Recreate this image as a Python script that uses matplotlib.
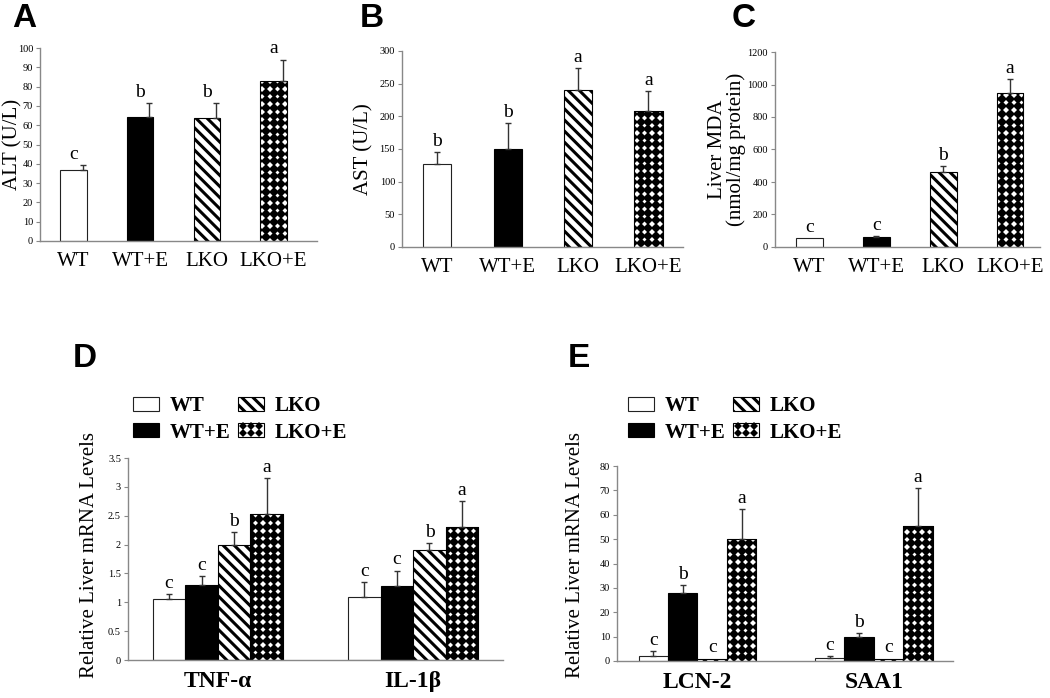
#!/usr/bin/env python3

import numpy as np
import matplotlib
matplotlib.use('Agg')
import matplotlib.pyplot as plt
from matplotlib.patches import Rectangle
from matplotlib.lines import Line2D
from matplotlib.legend_handler import HandlerBase

plt.rcParams['font.family'] = ['Liberation Serif', 'DejaVu Serif']

groups = ['WT', 'WT+E', 'LKO', 'LKO+E']

# panel A-C
alt = [37, 64.5, 63.5, 83]
alt_err = [2.5, 7, 8, 11]
alt_sig = ['c', 'b', 'b', 'a']

ast = [127, 150, 241, 208]
ast_err = [19, 40, 33, 31]
ast_sig = ['b', 'b', 'a', 'a']

mda = [55, 60, 460, 945]
mda_err = [0, 5, 40, 90]
mda_sig = ['c', 'c', 'b', 'a']

# panel D
genes_d = ['TNF-\u03b1', 'IL-1\u03b2']
d_vals = {'WT': [1.05, 1.1], 'WT+E': [1.3, 1.28], 'LKO': [2.0, 1.9], 'LKO+E': [2.53, 2.3]}
d_err = {'WT': [0.1, 0.25], 'WT+E': [0.15, 0.27], 'LKO': [0.22, 0.12], 'LKO+E': [0.62, 0.45]}
d_sig = {'WT': ['c', 'c'], 'WT+E': ['c', 'c'], 'LKO': ['b', 'b'], 'LKO+E': ['a', 'a']}

# panel E
genes_e = ['LCN-2', 'SAA1']
e_vals = {'WT': [2, 1.2], 'WT+E': [28, 10], 'LKO': [1, 1], 'LKO+E': [50, 55.5]}
e_err = {'WT': [2, 0.8], 'WT+E': [3, 1.5], 'LKO': [0, 0], 'LKO+E': [12.5, 15.5]}
e_sig = {'WT': ['c', 'c'], 'WT+E': ['b', 'b'], 'LKO': ['c', 'c'], 'LKO+E': ['a', 'a']}

W, H = 1050, 698
fig = plt.figure(figsize=(W / 100, H / 100), dpi=100)


def make_ax(left, right, y0, ytop):
    return fig.add_axes([left / W, (H - y0) / H, (right - left) / W, (y0 - ytop) / H])


def style_ax(ax, ticks, labels):
    for s in ['top', 'right']:
        ax.spines[s].set_visible(False)
    for s in ['left', 'bottom']:
        ax.spines[s].set_color('#888888')
        ax.spines[s].set_linewidth(1)
    ax.set_yticks(ticks)
    ax.set_yticklabels(labels, fontsize=7.5)
    ax.tick_params(axis='y', direction='out', length=3, width=0.8, color='#888888', pad=2)
    ax.tick_params(axis='x', length=0, pad=8)


def diamonds(ax, bar, step=7.6, ms=5):
    x0, w, h = bar.get_x(), bar.get_width(), bar.get_height()
    (px0, py0) = ax.transData.transform((x0, 0))
    (px1, py1) = ax.transData.transform((x0 + w, h))
    cx = (px0 + px1) / 2
    ncol = int((px1 - px0) / step / 2) + 2
    xs = cx + step * np.arange(-ncol, ncol + 1)
    ys = py0 + step * (np.arange(int((py1 - py0) / step) + 2) + 0.5)
    gx, gy = np.meshgrid(xs, ys)
    pts = ax.transData.inverted().transform(np.column_stack([gx.ravel(), gy.ravel()]))
    ln, = ax.plot(pts[:, 0], pts[:, 1], ls='none', marker='D', ms=ms, color='black', mew=0)
    ln.set_clip_path(bar)


def draw_bar(ax, x, v, w, kind):
    if kind == 'WT':
        b = ax.bar(x, v, w, facecolor='white', edgecolor='#222222', lw=0.8)
    elif kind == 'WT+E':
        b = ax.bar(x, v, w, facecolor='black', edgecolor='black', lw=0.8)
    elif kind == 'LKO':
        b = ax.bar(x, v, w, facecolor='white', edgecolor='black', lw=0.8, hatch='\\\\\\')
    else:
        b = ax.bar(x, v, w, facecolor='white', edgecolor='black', lw=0.8)
    return b[0]


plt.rcParams['hatch.linewidth'] = 2.2

# ---------- panels A, B, C ----------
simple = [
    ('A', alt, alt_err, alt_sig, 'ALT (U/L)', (40, 317, 241, 48), (-0.5, 3.65), 100,
     np.arange(0, 101, 10), 0.14, 12, 12.5),
    ('B', ast, ast_err, ast_sig, 'AST (U/L)', (402, 683, 247, 51), (-0.5, 3.49), 300,
     np.arange(0, 301, 50), 0.0, 360, 363.5),
    ('C', mda, mda_err, mda_sig, 'Liver MDA\n(nmol/mg protein)', (775, 1040, 247, 52), (-0.52, 3.45), 1200,
     np.arange(0, 1201, 200), 0.0, 732, 727),
]

for letter, vals, errs, sig, ylab, box, xl, ymax, ticks, eoff, lx, ylx in simple:
    ax = make_ax(*box)
    ax.set_xlim(*xl)
    ax.set_ylim(0, ymax)
    style_ax(ax, ticks, [str(t) for t in ticks])
    w = 0.4
    bars = []
    for i, g in enumerate(groups):
        bars.append(draw_bar(ax, i, vals[i], w, g))
    for i, g in enumerate(groups):
        if g == 'LKO+E':
            diamonds(ax, bars[i])
        if errs[i] > 0:
            ax.errorbar(i + eoff, vals[i], yerr=[[0], [errs[i]]], fmt='none', ecolor='#333333',
                        elinewidth=1, capsize=2, capthick=1)
        ax.annotate(sig[i], (i, vals[i] + errs[i]), xytext=(0, 1.5), textcoords='offset points',
                    ha='center', va='bottom', fontsize=14)
    ax.set_xticks(range(4))
    ax.set_xticklabels(groups, fontsize=15)
    ax.set_ylabel(ylab, fontsize=15, linespacing=1.0)
    ax.yaxis.set_label_coords((ylx - box[0]) / (box[1] - box[0]), 0.5)
    ax.yaxis.label.set_va('center')
    fig.text(lx / W, 1 - 3 / H, letter, fontsize=24, fontweight='bold', family='Liberation Sans',
             ha='left', va='top')


# ---------- panels D, E ----------
class DiamondHandler(HandlerBase):
    def create_artists(self, legend, orig_handle, xdescent, ydescent, width, height, fontsize, trans):
        rect = Rectangle((-xdescent, -ydescent), width, height, facecolor='white',
                         edgecolor='black', lw=0.8, transform=trans)
        xs = np.array([0.2, 0.5, 0.8, 0.2, 0.5, 0.8]) * width - xdescent
        ys = np.array([0.3, 0.3, 0.3, 0.8, 0.8, 0.8]) * height - ydescent
        d = Line2D(xs, ys, ls='none', marker='D', ms=4, color='black', mew=0, transform=trans)
        return [rect, d]


grouped = [
    ('D', genes_d, d_vals, d_err, d_sig, (128, 503, 660, 458), (-0.46, 1.46), 3.5,
     np.arange(0, 3.51, 0.5), ['0', '0.5', '1', '1.5', '2', '2.5', '3', '3.5'], 73, 133, 90),
    ('E', genes_e, e_vals, e_err, e_sig, (617, 953, 661, 466), (-0.456, 1.448), 80,
     np.arange(0, 81, 10), [str(t) for t in range(0, 81, 10)], 568, 628, 575),
]

for letter, genes, vals, errs, sig, box, xl, ymax, ticks, tlabels, lx, legx, ylx in grouped:
    ax = make_ax(*box)
    ax.set_xlim(*xl)
    ax.set_ylim(0, ymax)
    style_ax(ax, ticks, tlabels)
    w = 0.167
    x = np.arange(len(genes))
    handles = []
    for k, g in enumerate(groups):
        off = (k - 1.5) * w
        bars = []
        for j in range(len(genes)):
            bars.append(draw_bar(ax, x[j] + off, vals[g][j], w, g))
        handles.append(bars[0])
        for j in range(len(genes)):
            if g == 'LKO+E':
                diamonds(ax, bars[j])
            e = errs[g][j]
            if e > 0:
                ax.errorbar(x[j] + off, vals[g][j], yerr=[[0], [e]], fmt='none', ecolor='#333333',
                            elinewidth=1, capsize=2, capthick=1)
            ax.annotate(sig[g][j], (x[j] + off, vals[g][j] + e), xytext=(0, 1.5),
                        textcoords='offset points', ha='center', va='bottom', fontsize=14)
    ax.set_xticks(x)
    ax.set_xticklabels(genes, fontsize=17, fontweight='bold')
    ax.set_ylabel('Relative Liver mRNA Levels', fontsize=15)
    ax.yaxis.set_label_coords((ylx - box[0]) / (box[1] - box[0]), (box[2] - 555) / (box[2] - box[3]))
    ax.yaxis.label.set_va('center')
    leg = ax.legend(handles, groups, ncol=2, frameon=False,
                    handler_map={handles[3]: DiamondHandler()},
                    prop={'weight': 'bold', 'size': 15},
                    handlelength=1.25, handleheight=0.67, handletextpad=0.5,
                    columnspacing=0.35, labelspacing=0.3, borderaxespad=0,
                    loc='upper left',
                    bbox_to_anchor=((legx - 8 - box[0]) / (box[1] - box[0]),
                                    (box[2] - 388) / (box[2] - box[3])))
    fig.text(lx / W, 1 - 343 / H, letter, fontsize=24, fontweight='bold', family='Liberation Sans',
             ha='left', va='top')

fig.savefig('out.png', dpi=100)
